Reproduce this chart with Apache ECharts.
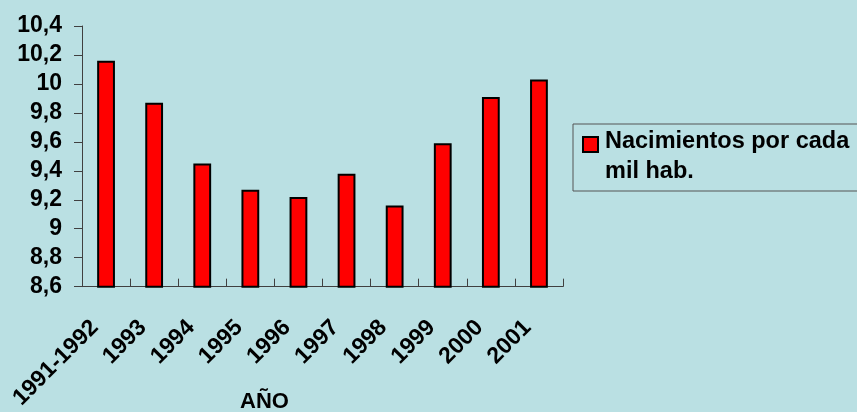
<!DOCTYPE html>
<html>
<head>
<meta charset="utf-8">
<script src="https://cdn.jsdelivr.net/npm/echarts@6/dist/echarts.min.js"></script>
<style>
  html, body { margin: 0; padding: 0; background: #BAE0E3; }
  #chart { width: 857px; height: 412px; }
</style>
</head>
<body>
<div id="chart"></div>
<script>
// Birth rate per thousand inhabitants, by year
const years = ['1991-1992', '1993', '1994', '1995', '1996', '1997', '1998', '1999', '2000', '2001'];
const births = [10.16, 9.87, 9.45, 9.27, 9.22, 9.38, 9.16, 9.59, 9.91, 10.03];
const yTickLabels = ['8,6', '8,8', '9', '9,2', '9,4', '9,6', '9,8', '10', '10,2', '10,4'];
const seriesName = 'Nacimientos por cada\nmil hab.';
const axisTitle = 'AÑO';

const Y_MIN = 8.6, Y_STEP = 0.2;
const FONT = '"Liberation Sans", Arial, sans-serif';
const AXIS_COLOR = '#404040';

// Legend marker: a square at the top of a taller box, so it lines up with the first text line
const LEGEND_ICON = 'path://M0,0H15V15H0Z M17,40';

const chart = echarts.init(document.getElementById('chart'), null, { renderer: 'canvas' });

chart.setOption({
  backgroundColor: '#BAE0E3',
  animation: false,
  textStyle: { fontFamily: FONT, fontWeight: 'bold', color: '#000' },
  title: {
    text: axisTitle,
    left: 240,
    top: 391,
    padding: 0,
    textStyle: { fontFamily: FONT, fontWeight: 'bold', fontSize: 22, color: '#000' }
  },
  legend: {
    left: 573,
    top: 124,
    orient: 'vertical',
    padding: [3, 16, 4, 9],
    borderColor: '#555',
    borderWidth: 1,
    icon: LEGEND_ICON,
    itemWidth: 17,
    itemHeight: 40,
    textStyle: {
      fontFamily: FONT, fontWeight: 'bold', fontSize: 23.5, color: '#000',
      lineHeight: 30
    },
    data: [seriesName]
  },
  grid: { left: 82, right: 294, top: 26, bottom: 124, containLabel: false },
  xAxis: {
    type: 'category',
    data: years,
    boundaryGap: true,
    axisLine: { lineStyle: { color: AXIS_COLOR, width: 1 } },
    axisTick: { show: true, inside: true, length: 8, interval: 0, lineStyle: { color: AXIS_COLOR } },
    axisLabel: {
      interval: 0,
      rotate: 45,
      margin: 26,
      padding: [0, 16, 0, 0],
      fontFamily: FONT, fontWeight: 'bold', fontSize: 23, color: '#000'
    },
    splitLine: { show: false }
  },
  yAxis: {
    type: 'value',
    min: Y_MIN,
    max: 10.4,
    interval: Y_STEP,
    axisLine: { show: true, lineStyle: { color: AXIS_COLOR, width: 1 } },
    axisTick: { show: true, length: 8, lineStyle: { color: AXIS_COLOR } },
    axisLabel: {
      margin: 20,
      fontFamily: FONT, fontWeight: 'bold', fontSize: 23, color: '#000',
      formatter: v => yTickLabels[Math.round((v - Y_MIN) / Y_STEP)]
    },
    splitLine: { show: false }
  },
  series: [{
    name: seriesName,
    type: 'bar',
    data: births,
    barWidth: '37%',
    itemStyle: { color: '#FF0000', borderColor: '#000', borderWidth: 2 }
  }]
});
</script>
</body>
</html>
